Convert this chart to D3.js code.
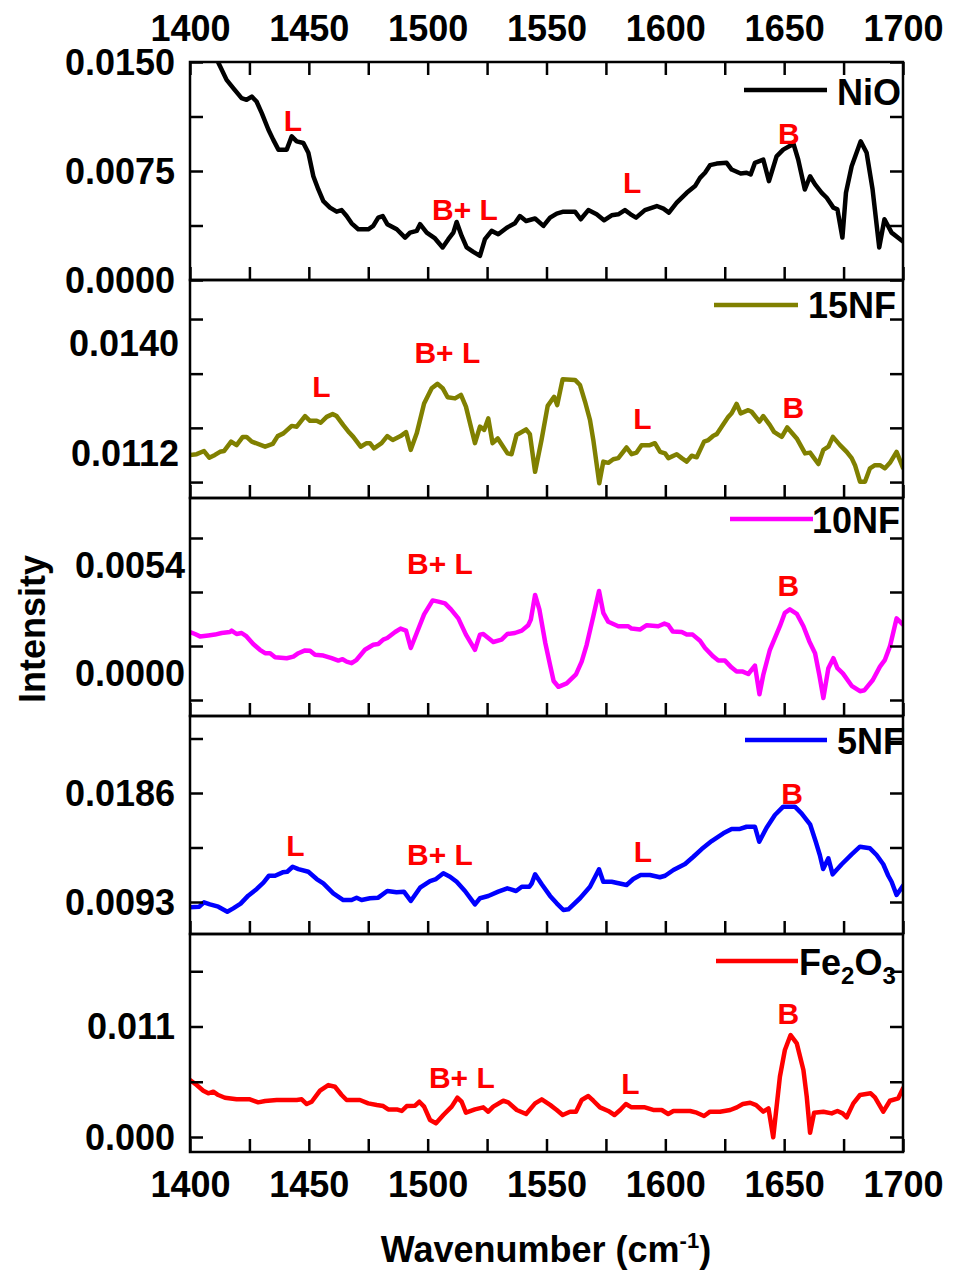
<!DOCTYPE html>
<html>
<head>
<meta charset="utf-8">
<script src="https://cdn.jsdelivr.net/npm/d3@7"></script>
<style>
  body { margin: 0; background: #fff; }
  svg { display: block; font-family: "Liberation Sans", Arial, sans-serif; font-weight: bold; }
</style>
</head>
<body>
<svg id="chart" width="953" height="1272"></svg>
<script>
// ---- Spectra: [wavenumber (cm-1), intensity] ----
const niO = [
  [1400, 0.0176], [1405, 0.0166], [1409, 0.0157], [1411.8, 0.0150], [1415.4, 0.01377], [1418.2, 0.0132],
  [1421.7, 0.01251], [1423.8, 0.0124], [1426, 0.01262], [1428, 0.01228], [1430.2, 0.01148], [1433, 0.01034],
  [1435, 0.00966], [1437.2, 0.00897], [1440.7, 0.00897], [1442.8, 0.00988], [1444.9, 0.00954], [1447.7, 0.00943],
  [1449.8, 0.00875], [1451.9, 0.00714], [1454, 0.00623], [1456.1, 0.00543], [1458.9, 0.00498], [1461.7, 0.0047],
  [1463.8, 0.00481], [1465.9, 0.0044], [1468, 0.0039], [1470.8, 0.00349], [1475, 0.00349], [1477.1, 0.00372],
  [1479.2, 0.00429], [1481.1, 0.0044], [1483, 0.00384], [1487, 0.00349], [1490.5, 0.00292], [1492.6, 0.00326],
  [1495.4, 0.00338], [1496.8, 0.00384], [1499.6, 0.00326], [1503.1, 0.00286], [1506.3, 0.00224], [1508.7, 0.00281],
  [1510.8, 0.00326], [1512.2, 0.00399], [1514.3, 0.00303], [1516.4, 0.00224], [1519.2, 0.00194], [1522, 0.00166],
  [1524.1, 0.00281], [1526.9, 0.00338], [1529.7, 0.00315], [1533.3, 0.0036], [1536.7, 0.0039], [1538.8, 0.0044],
  [1541.4, 0.00406], [1545.2, 0.00423], [1548.7, 0.00372], [1551.5, 0.00429], [1554.3, 0.00457], [1557.1, 0.0047],
  [1562, 0.0047], [1564.4, 0.00418], [1567.6, 0.00481], [1571.1, 0.00452], [1574.2, 0.00411], [1577.4, 0.00445],
  [1580.2, 0.00452], [1583, 0.00481], [1585.4, 0.00452], [1587.7, 0.00429], [1591.4, 0.00481], [1596.4, 0.00509],
  [1599.2, 0.00491], [1601.5, 0.00464], [1604.8, 0.00532], [1609, 0.006], [1612.5, 0.00646], [1614.6, 0.00703],
  [1616.7, 0.00738], [1618.8, 0.0079], [1621.6, 0.00801], [1625.8, 0.00806], [1627.9, 0.0076], [1631.7, 0.00733],
  [1634.2, 0.00738], [1635.9, 0.00726], [1637.7, 0.00806], [1641.2, 0.00829], [1643.6, 0.0068], [1646.8, 0.00851],
  [1649.6, 0.00897], [1652.7, 0.00925], [1653.8, 0.00943], [1655.9, 0.00829], [1658.7, 0.00623], [1660.9, 0.00714],
  [1663, 0.00658], [1665.8, 0.006], [1667.9, 0.00566], [1670.7, 0.00498], [1672.4, 0.00486], [1674.5, 0.00292],
  [1676, 0.006], [1678.4, 0.00783], [1682.2, 0.00954], [1684.7, 0.00875], [1687.2, 0.00623], [1690, 0.00224],
  [1692.2, 0.00418], [1695.2, 0.00326], [1700, 0.00265]
];

const nf15 = [
  [1400, 0.01115], [1402.8, 0.01117], [1405.9, 0.01125], [1408.1, 0.01108], [1410.5, 0.01115], [1412.6, 0.01123],
  [1414.3, 0.01125], [1417.3, 0.01149], [1419.6, 0.0114], [1422.2, 0.01161], [1423.8, 0.01161], [1426, 0.01149],
  [1431.6, 0.01136], [1434.8, 0.01143], [1436.9, 0.01163], [1439.3, 0.0117], [1442.8, 0.01189], [1444.9, 0.01187],
  [1448.4, 0.01214], [1450.5, 0.01202], [1453.3, 0.01202], [1455, 0.01197], [1457.5, 0.01212], [1460, 0.01219],
  [1461.7, 0.01214], [1464.5, 0.01191], [1467, 0.01172], [1468.7, 0.01161], [1471.8, 0.01136], [1474.3, 0.01145],
  [1475.7, 0.01145], [1477.4, 0.01132], [1480.6, 0.01145], [1483, 0.01163], [1485.3, 0.01153], [1488.6, 0.01163],
  [1490.9, 0.01173], [1492.9, 0.01128], [1495.4, 0.0117], [1498.5, 0.01246], [1501.7, 0.01285], [1504.1, 0.01296],
  [1506.3, 0.01285], [1508.4, 0.01262], [1511.5, 0.01259], [1514, 0.01268], [1516.1, 0.01238], [1519.9, 0.01145],
  [1522, 0.01187], [1523.8, 0.01179], [1525.5, 0.01208], [1527.3, 0.01145], [1529.5, 0.01157], [1533.6, 0.01119],
  [1535.3, 0.01117], [1537.4, 0.01166], [1541.4, 0.0118], [1543, 0.01168], [1545.2, 0.01072], [1547.9, 0.01153],
  [1550.5, 0.0124], [1553.2, 0.01263], [1554.5, 0.01242], [1556.8, 0.01308], [1562, 0.01306], [1564.1, 0.01293],
  [1566.2, 0.01251], [1568.3, 0.01204], [1569.7, 0.01153], [1572.2, 0.01043], [1573.9, 0.01098], [1576, 0.01095],
  [1578.1, 0.01104], [1580.2, 0.01107], [1583.7, 0.01134], [1585.8, 0.01117], [1587.9, 0.01121], [1590, 0.0114],
  [1593.5, 0.0114], [1595.6, 0.01145], [1597.8, 0.01123], [1599.9, 0.01119], [1601.3, 0.01107], [1604.8, 0.01117],
  [1606.9, 0.01107], [1609, 0.01098], [1611.1, 0.01113], [1613.2, 0.01109], [1616.3, 0.01149], [1618.1, 0.01153],
  [1620.2, 0.01164], [1621.6, 0.01168], [1623.7, 0.01187], [1626.5, 0.01212], [1627.9, 0.01221], [1630, 0.01245],
  [1631.7, 0.01221], [1634.9, 0.01229], [1636.3, 0.01225], [1639.6, 0.012], [1641.2, 0.01214], [1644, 0.01191],
  [1645.7, 0.01174], [1649, 0.01161], [1651.3, 0.01185], [1655.3, 0.01157], [1658.8, 0.01119], [1660.9, 0.01121],
  [1664.4, 0.01092], [1666.5, 0.01128], [1668.6, 0.01136], [1670.5, 0.01161], [1673.5, 0.0114], [1676.3, 0.01123],
  [1678.4, 0.01107], [1679.8, 0.01089], [1681.9, 0.01047], [1684, 0.01047], [1686.1, 0.01081], [1688.2, 0.01089],
  [1690.3, 0.01089], [1692.4, 0.01081], [1694.5, 0.01095], [1697.3, 0.01123], [1700, 0.01082]
];

const nf10 = [
  [1400, 0.00205], [1402.1, 0.00195], [1404.2, 0.00183], [1407.7, 0.00188], [1410.5, 0.00192], [1413.3, 0.002],
  [1416.8, 0.00205], [1417.5, 0.00212], [1419.6, 0.00195], [1421.7, 0.002], [1423.8, 0.00183], [1426.6, 0.00145],
  [1429.4, 0.00116], [1431.6, 0.00099], [1433.7, 0.00099], [1435.8, 0.00079], [1440.7, 0.00074], [1443.5, 0.00082],
  [1445.6, 0.00099], [1448.4, 0.00113], [1450.5, 0.00111], [1452.6, 0.00091], [1456.1, 0.00087], [1459.6, 0.00074],
  [1462.4, 0.00062], [1464.2, 0.00069], [1465.9, 0.00057], [1468, 0.00049], [1470.1, 0.00066], [1473.6, 0.00116],
  [1477.1, 0.00141], [1479.2, 0.00145], [1481.3, 0.00167], [1483, 0.00175], [1486.3, 0.00205], [1488.6, 0.00222],
  [1490.9, 0.00212], [1492.9, 0.00125], [1495.4, 0.002], [1498.5, 0.00293], [1502.1, 0.00363], [1504.5, 0.00357],
  [1507.3, 0.00348], [1509.8, 0.00318], [1512.9, 0.00273], [1516.1, 0.00192], [1519.9, 0.00116], [1522, 0.00192],
  [1523.4, 0.00195], [1527.6, 0.00155], [1531.1, 0.00167], [1533.5, 0.00195], [1536.7, 0.002], [1539.6, 0.00212],
  [1542.3, 0.00239], [1543.4, 0.00267], [1545.2, 0.0039], [1547, 0.00318], [1549.5, 0.0015], [1551.5, 0.0004],
  [1553, -0.0004], [1555, -0.00069], [1558.5, -0.00052], [1562.4, -0.00007], [1564.8, 0.00057], [1566.9, 0.00141],
  [1569.7, 0.00284], [1572.1, 0.0041], [1573.9, 0.00301], [1576, 0.00256], [1580.2, 0.00234], [1584.4, 0.00234],
  [1585.8, 0.00222], [1589.3, 0.00217], [1592.2, 0.00239], [1597, 0.00234], [1599.6, 0.00247], [1601.3, 0.00239],
  [1603.1, 0.00208], [1606.9, 0.00205], [1609, 0.00192], [1611.5, 0.00192], [1614.6, 0.00161], [1616.7, 0.00125],
  [1620.2, 0.00082], [1622.3, 0.00062], [1625.1, 0.00062], [1627.9, 0.00027], [1630, 0.00007], [1632.6, 0.00007],
  [1634.9, -0.00005], [1637.7, 0.00037], [1639.6, -0.00106], [1641.2, -0.0001], [1644, 0.00116], [1648.2, 0.00234],
  [1650.3, 0.00301], [1652.4, 0.00318], [1655.3, 0.00296], [1658.1, 0.00234], [1660.6, 0.00158], [1663, 0.00099],
  [1664.8, -0.0001], [1666.5, -0.00125], [1668.6, 0.00024], [1670.7, 0.00074], [1672.4, 0.00024], [1674.7, -0.00002],
  [1678.4, -0.00064], [1681.9, -0.00091], [1683.8, -0.00086], [1687.3, -0.00035], [1690.3, 0.00032], [1692.4, 0.00066],
  [1694.5, 0.00133], [1697.3, 0.00273], [1700, 0.00242]
];

const nf5 = [
  [1400, 0.00885], [1403.9, 0.0089], [1405.9, 0.00927], [1408.4, 0.0091], [1411.9, 0.0089], [1415.7, 0.00847],
  [1418.2, 0.00876], [1421.3, 0.00916], [1424.5, 0.00984], [1428.1, 0.01041], [1430.9, 0.01095], [1433.2, 0.01154],
  [1435.8, 0.01154], [1439, 0.01183], [1440.9, 0.01188], [1443.2, 0.01231], [1445.6, 0.01211], [1449.8, 0.01188],
  [1453.3, 0.01126], [1456.1, 0.01089], [1460.3, 0.01004], [1464.5, 0.00947], [1468, 0.00947], [1470.1, 0.00967],
  [1472.2, 0.00947], [1475.7, 0.00962], [1479.2, 0.00967], [1483, 0.01024], [1486.9, 0.01013], [1490, 0.01018],
  [1492.9, 0.00939], [1496.8, 0.01052], [1501, 0.01109], [1503.5, 0.01126], [1506.6, 0.01175], [1509.4, 0.01146],
  [1512.2, 0.01103], [1515.7, 0.01024], [1519.9, 0.0091], [1522, 0.00962], [1525.5, 0.00981], [1529.7, 0.01018],
  [1533.5, 0.01047], [1537.2, 0.01024], [1539.6, 0.0106], [1542.8, 0.0106], [1543.8, 0.01089], [1545.2, 0.01166],
  [1548, 0.01081], [1551.5, 0.00982], [1554.3, 0.00919], [1557.1, 0.00862], [1559.2, 0.00868], [1564.1, 0.00962],
  [1568.3, 0.0106], [1572.1, 0.01209], [1573.9, 0.01103], [1577.4, 0.01103], [1583.7, 0.01075], [1586.5, 0.01126],
  [1589.6, 0.0116], [1593.5, 0.0116], [1597.7, 0.01141], [1599.9, 0.01154], [1603.4, 0.01203], [1608.3, 0.01254],
  [1611.8, 0.01316], [1615.3, 0.01382], [1619.5, 0.0145], [1624.4, 0.01516], [1627.9, 0.01553], [1631.4, 0.01553],
  [1634.2, 0.01572], [1637.7, 0.01572], [1639.5, 0.01444], [1642.6, 0.01564], [1646.1, 0.01672], [1649.6, 0.01743],
  [1654.5, 0.01743], [1657.3, 0.01687], [1660.9, 0.01593], [1663.3, 0.01444], [1665, 0.01331], [1666.4, 0.01212],
  [1668.6, 0.01303], [1670.4, 0.01166], [1674.2, 0.01252], [1678.4, 0.01337], [1681.9, 0.01402], [1686.1, 0.01388],
  [1688.9, 0.01331], [1691.7, 0.01252], [1693.8, 0.01154], [1695.2, 0.01103], [1697.3, 0.0099], [1700, 0.01069]
];

const fe2o3 = [
  [1400, 0.00567], [1402.8, 0.00517], [1405.6, 0.00461], [1407.7, 0.00435], [1409.8, 0.00451], [1411.9, 0.00418],
  [1414.7, 0.00391], [1419.6, 0.00375], [1425.2, 0.00375], [1428.7, 0.00345], [1431.6, 0.00358], [1436.5, 0.00368],
  [1440.7, 0.00368], [1444.9, 0.00368], [1447, 0.00375], [1449.1, 0.00328], [1451.2, 0.00351], [1454.7, 0.00461],
  [1458.2, 0.00517], [1461, 0.005], [1463.8, 0.00418], [1465.9, 0.00368], [1471.5, 0.00368], [1475, 0.00335],
  [1478.6, 0.00318], [1481.3, 0.00308], [1483.4, 0.00275], [1487, 0.00275], [1489.1, 0.00259], [1491.2, 0.00308],
  [1494.7, 0.00312], [1496.5, 0.00351], [1498.5, 0.00302], [1501, 0.00169], [1503.5, 0.00136], [1506.6, 0.00219],
  [1510.1, 0.00302], [1512.5, 0.00391], [1514.3, 0.00351], [1516.1, 0.00242], [1519.9, 0.00275], [1523.4, 0.00295],
  [1525.5, 0.00252], [1527.6, 0.00302], [1531.8, 0.00361], [1533.9, 0.00345], [1537.5, 0.00269], [1541.4, 0.00229],
  [1545.2, 0.00335], [1548, 0.00375], [1551.5, 0.0032], [1554.3, 0.00269], [1556.8, 0.00219], [1559.9, 0.00252],
  [1562.4, 0.00252], [1564.8, 0.00368], [1567.6, 0.00408], [1569.7, 0.00361], [1572.5, 0.00295], [1576, 0.00259],
  [1578.6, 0.00219], [1581, 0.00269], [1583.4, 0.00328], [1585.8, 0.00295], [1591.4, 0.00295], [1594.9, 0.00269],
  [1598.5, 0.00269], [1601.2, 0.00229], [1603.4, 0.00259], [1610.4, 0.00259], [1613.2, 0.00242], [1616.3, 0.00209],
  [1618.8, 0.00252], [1623, 0.00252], [1627.3, 0.00269], [1630.1, 0.00295], [1632.6, 0.00328], [1635.7, 0.00341],
  [1638.2, 0.00318], [1641.2, 0.00252], [1643.4, 0.00285], [1645.4, -0.00003], [1648.2, 0.006], [1650.3, 0.00866],
  [1652.7, 0.01015], [1655.3, 0.00932], [1658.1, 0.00667], [1659.5, 0.00401], [1660.9, 0.00043], [1662.6, 0.00242],
  [1666.5, 0.00252], [1670, 0.00235], [1672.4, 0.00259], [1674.6, 0.00235], [1676.3, 0.00196], [1679.1, 0.00335],
  [1681.9, 0.00418], [1686.4, 0.00435], [1688.2, 0.00395], [1691.7, 0.00252], [1694.5, 0.00361], [1698, 0.00385],
  [1700, 0.00484]
];

// ---- Axis ticks ----
const xTickValues = d3.range(1400, 1701, 25);
const xLabelValues = [1400, 1450, 1500, 1550, 1600, 1650, 1700];

const yTicksNiO = [0, 0.00375, 0.0075, 0.01125, 0.015];
const yTicks15NF = [0.01046, 0.01184, 0.01322, 0.01461];
const yTicks10NF = [-0.00135, 0.00135, 0.00405, 0.00675];
const yTicks5NF = [0.0093, 0.01395, 0.0186, 0.02325];
const yTicksFe = [0, 0.0055, 0.011, 0.0165];

const yLabelsNiO = [0, 0.0075, 0.015];
const yLabels15NF = [0.0112, 0.0140];
const yLabels10NF = [0, 0.0054];
const yLabels5NF = [0.0093, 0.0186];
const yLabelsFe = [0, 0.011];

// ---- Band assignments (text, wavenumber, intensity at text centre) ----
const notesNiO = [["L", 1443.3, 0.0110], ["B+ L", 1515.7, 0.0049], ["L", 1586, 0.0067], ["B", 1652, 0.0101]];
const notes15NF = [["L", 1455.3, 0.01291], ["B+ L", 1508.3, 0.01376], ["L", 1590.4, 0.01209], ["B", 1653.9, 0.01236]];
const notes10NF = [["B+ L", 1505.2, 0.00548], ["B", 1651.8, 0.00439]];
const notes5NF = [["L", 1444.4, 0.01416], ["B+ L", 1505.2, 0.01335], ["L", 1590.6, 0.01361], ["B", 1653.3, 0.0186]];
const notesFe = [["B+ L", 1514.4, 0.00592], ["L", 1585.3, 0.00537], ["B", 1651.8, 0.01234]];

// ---- Layout ----
const plotLeft = 190, plotRight = 903, firstTop = 62, panelH = 218, tickLen = 13;
const axisWidth = 2.5, lineWidth = 4.5;
const fontSize = 36, noteSize = 30;

const panels = [
  { name: ["NiO"], color: "#000000", values: niO, ticks: yTicksNiO, labels: yLabelsNiO, fmt: ".4f", notes: notesNiO,
    anchors: [[0, 218], [0.015, 0]], labelRight: 175, legend: { x1: 744, x2: 827, ly: 28, tx: 837, ty: 43 } },
  { name: ["15NF"], color: "#808000", values: nf15, ticks: yTicks15NF, labels: yLabels15NF, fmt: ".4f", notes: notes15NF,
    anchors: [[0.0112, 173], [0.0140, 63]], labelRight: 179, legend: { x1: 714, x2: 798, ly: 25, tx: 808, ty: 38 } },
  { name: ["10NF"], color: "#FF00FF", values: nf10, ticks: yTicks10NF, labels: yLabels10NF, fmt: ".4f", notes: notes10NF,
    anchors: [[0, 175], [0.0054, 67]], labelRight: 185, legend: { x1: 730, x2: 813, ly: 21, tx: 812, ty: 35 } },
  { name: ["5NF"], color: "#0000FF", values: nf5, ticks: yTicks5NF, labels: yLabels5NF, fmt: ".4f", notes: notes5NF,
    anchors: [[0.0093, 186], [0.0186, 77]], labelRight: 175, legend: { x1: 745, x2: 827, ly: 24, tx: 837, ty: 38 } },
  { name: ["Fe", "2", "O", "3"], color: "#FF0000", values: fe2o3, ticks: yTicksFe, labels: yLabelsFe, fmt: ".3f", notes: notesFe,
    anchors: [[0, 203], [0.011, 92.5]], labelRight: 175, legend: { x1: 716, x2: 798, ly: 27, tx: 799, ty: 41 } }
];

const svg = d3.select("#chart");
const x = d3.scaleLinear().domain([1400, 1700]).range([plotLeft, plotRight]);

function styleAxis(g) {
  g.select(".domain").remove();
  g.selectAll(".tick line").attr("stroke", "#000").attr("stroke-width", axisWidth);
  g.selectAll(".tick text").attr("fill", "#000");
  g.attr("font-family", null).attr("font-size", fontSize).attr("font-weight", "bold");
}

panels.forEach((p, i) => {
  const top = firstTop + i * panelH;
  const bottom = top + panelH;
  const y = d3.scaleLinear()
    .domain([p.anchors[0][0], p.anchors[1][0]])
    .range([top + p.anchors[0][1], top + p.anchors[1][1]]);

  const clipId = "clip" + i;
  svg.append("clipPath").attr("id", clipId)
    .append("rect").attr("x", plotLeft).attr("y", top).attr("width", plotRight - plotLeft).attr("height", panelH);

  // spectrum
  const line = d3.line().x(d => x(d[0])).y(d => y(d[1]));
  svg.append("path")
    .attr("clip-path", `url(#${clipId})`)
    .attr("d", line(p.values))
    .attr("fill", "none")
    .attr("stroke", p.color)
    .attr("stroke-width", lineWidth)
    .attr("stroke-linejoin", "round")
    .attr("stroke-linecap", "round");

  // bottom x ticks (inward); the outermost axis carries labels
  const isLast = i === panels.length - 1;
  const xb = d3.axisBottom(x).tickValues(xTickValues).tickSizeInner(-tickLen).tickSizeOuter(0)
    .tickPadding(19.5)
    .tickFormat(d => (isLast && xLabelValues.includes(d)) ? d : "");
  svg.append("g").attr("transform", `translate(0,${bottom})`).call(xb).call(styleAxis);

  if (i === 0) {
    const xt = d3.axisTop(x).tickValues(xTickValues).tickSizeInner(-tickLen).tickSizeOuter(0)
      .tickPadding(21.5)
      .tickFormat(d => xLabelValues.includes(d) ? d : "");
    svg.append("g").attr("transform", `translate(0,${top})`).call(xt).call(styleAxis);
  }

  // y ticks (inward on both sides)
  const yl = d3.axisLeft(y).tickValues(p.ticks).tickSizeInner(-tickLen).tickSizeOuter(0).tickFormat("");
  svg.append("g").attr("transform", `translate(${plotLeft},0)`).call(yl).call(styleAxis);
  const yr = d3.axisRight(y).tickValues(p.ticks).tickSizeInner(-tickLen).tickSizeOuter(0).tickFormat("");
  svg.append("g").attr("transform", `translate(${plotRight},0)`).call(yr).call(styleAxis);

  // y labels
  const fmt = d3.format(p.fmt);
  svg.append("g").selectAll("text").data(p.labels).join("text")
    .attr("x", p.labelRight)
    .attr("y", d => y(d))
    .attr("dy", "0.36em")
    .attr("text-anchor", "end")
    .attr("font-size", fontSize)
    .text(d => fmt(d));

  // frame
  svg.append("rect")
    .attr("x", plotLeft).attr("y", top)
    .attr("width", plotRight - plotLeft).attr("height", panelH)
    .attr("fill", "none").attr("stroke", "#000").attr("stroke-width", axisWidth);

  // band notes
  svg.append("g").selectAll("text").data(p.notes).join("text")
    .attr("x", d => x(d[1]))
    .attr("y", d => y(d[2]))
    .attr("dy", "0.36em")
    .attr("text-anchor", "middle")
    .attr("font-size", noteSize)
    .attr("fill", "#FF0000")
    .text(d => d[0]);

  // legend
  const L = p.legend;
  svg.append("line")
    .attr("x1", L.x1).attr("x2", L.x2)
    .attr("y1", top + L.ly).attr("y2", top + L.ly)
    .attr("stroke", p.color).attr("stroke-width", lineWidth);
  const lt = svg.append("text")
    .attr("x", L.tx).attr("y", top + L.ty)
    .attr("font-size", fontSize);
  if (p.name.length === 1) {
    lt.text(p.name[0]);
  } else {
    p.name.forEach((part, k) => {
      const sub = k % 2 === 1;
      lt.append("tspan")
        .attr("font-size", sub ? 24 : fontSize)
        .attr("dy", k === 0 ? 0 : (sub ? 9 : -9))
        .text(part);
    });
  }
});

// axis titles
svg.append("text")
  .attr("transform", "translate(45,629) rotate(-90)")
  .attr("text-anchor", "middle")
  .attr("font-size", fontSize)
  .text("Intensity");

const xt = svg.append("text")
  .attr("x", 546).attr("y", 1262)
  .attr("text-anchor", "middle")
  .attr("font-size", fontSize);
xt.append("tspan").text("Wavenumber (cm");
xt.append("tspan").attr("font-size", 22).attr("dy", -14).text("-1");
xt.append("tspan").attr("dy", 14).text(")");
</script>
</body>
</html>
